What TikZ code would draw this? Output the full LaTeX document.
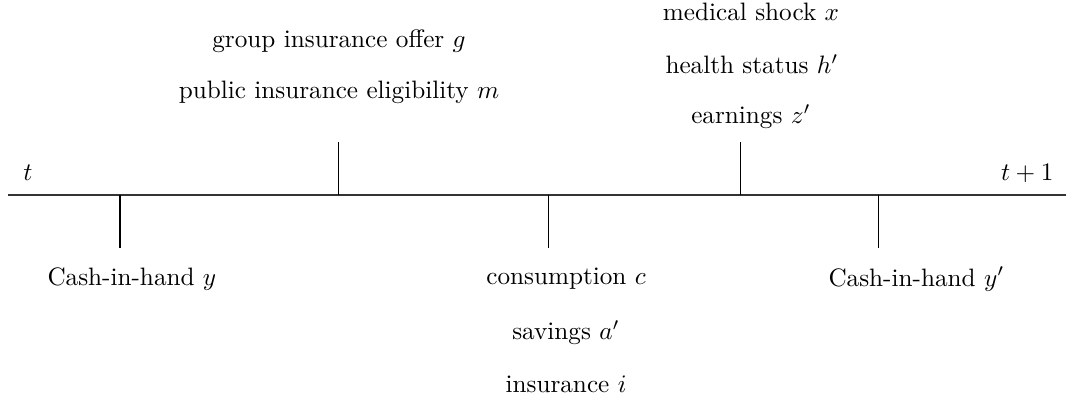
\documentclass[tikz,border=0pt]{standalone}
\begin{document}
\begin{tikzpicture}[x=0.397pt,y=-0.397pt,
  lbl/.style={inner sep=0pt},
  axisline/.style={draw=black!80,line width=0.45pt},
  tickline/.style={draw=black,line width=0.4pt}]
\useasboundingbox (0,0) rectangle (1066,402);
% axis
\coordinate (L) at (8,195);
\coordinate (R) at (1066,195);
\draw[axisline] (L) -- (R);
% ticks
\coordinate (d1a) at (120,195); \coordinate (d1b) at (120,248);
\coordinate (u1a) at (338,195); \coordinate (u1b) at (338,142);
\coordinate (d2a) at (548,195); \coordinate (d2b) at (548,248);
\coordinate (u2a) at (740,195); \coordinate (u2b) at (740,142);
\coordinate (d3a) at (878,195); \coordinate (d3b) at (878,248);
\draw[tickline] (d1a) -- (d1b);
\draw[tickline] (u1a) -- (u1b);
\draw[tickline] (d2a) -- (d2b);
\draw[tickline] (u2a) -- (u2b);
\draw[tickline] (d3a) -- (d3b);
% labels
\node[lbl] (t0) at (28,173) {$t$};
\node[lbl,anchor=east] (t1) at (1054,173) {$t+1$};
\node[lbl] (g) at (339,41) {group insurance offer $g$};
\node[lbl] (m) at (339,92) {public insurance eligibility $m$};
\node[lbl] (x) at (751,12) {medical shock $x$};
\node[lbl] (h) at (752,64) {health status $h'$};
\node[lbl] (z) at (751,117) {earnings $z'$};
\node[lbl,anchor=west] (y0) at (47,279) {Cash-in-hand $y$};
\node[lbl] (c) at (566,279) {consumption $c$};
\node[lbl] (a) at (566,333) {savings $a'$};
\node[lbl] (i) at (566,384) {insurance $i$};
\node[lbl,anchor=west] (y1) at (828,279) {Cash-in-hand $y'$};
\end{tikzpicture}
\end{document}
